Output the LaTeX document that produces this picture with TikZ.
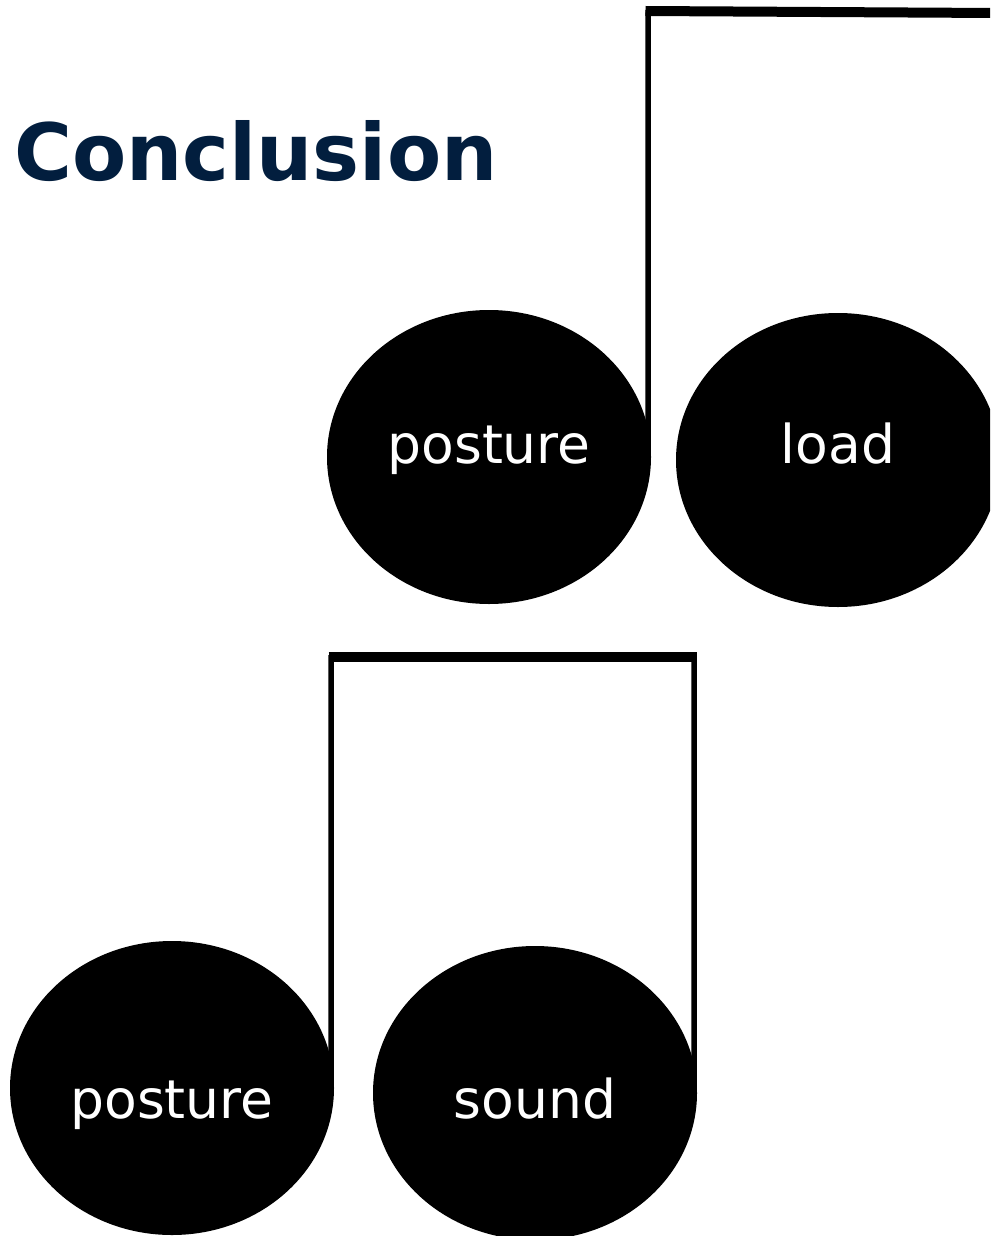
\documentclass[tikz,border=0pt]{standalone}
\usepackage{fontspec}
\setmainfont{DejaVu Sans}
\usetikzlibrary{shapes.geometric,calc}
\definecolor{navy}{HTML}{021E3E}
\tikzset{
  blob/.style={ellipse, fill=black, draw=none, minimum width=324pt, minimum height=294pt, inner sep=0pt},
  lbl/.style={text=white, font=\fontsize{53.5}{60}\selectfont, anchor=base, inner sep=0pt},
  stem/.style={draw=black, line width=5.5pt},
  beam/.style={draw=black, line width=10pt},
}
\begin{document}
\begin{tikzpicture}[x=1pt,y=-1pt]
\useasboundingbox (0,0) rectangle (990,1236);
\clip (0,0) rectangle (990,1236);
\node[text=navy, font=\bfseries\fontsize{79}{90}\selectfont, anchor=base west, inner sep=0pt] (title) at (14,180) {Conclusion};
% top note
\node[blob] (p1) at (489,457) {};
\node[blob] (l1) at (838,460) {};
\node[lbl] (p1t) at (489,463) {posture};
\node[lbl] (l1t) at (838,463) {load};
\coordinate (t1) at (648,11);
\coordinate (t2) at (995,13);
\draw[stem] ($(p1.east)+(-3,-2)$) -- ($(t1)+(0,-1)$);
\draw[beam] ($(t1)+(-2.5,0)$) -- (t2);
% bottom note
\node[blob] (p2) at (172,1088) {};
\node[blob] (s2) at (535,1093) {};
\node[lbl] (p2t) at (172,1118) {posture};
\node[lbl] (s2t) at (535,1118) {sound};
\coordinate (b1) at (331,657);
\coordinate (b2) at (694,657);
\draw[stem] ($(p2.east)+(-3,-3)$) -- ($(b1)+(0,-2)$);
\draw[stem] ($(s2.east)+(-3,-3)$) -- ($(b2)+(0,-2)$);
\draw[beam] ($(b1)+(-2.5,0)$) -- ($(b2)+(2.5,0)$);
\end{tikzpicture}
\end{document}
